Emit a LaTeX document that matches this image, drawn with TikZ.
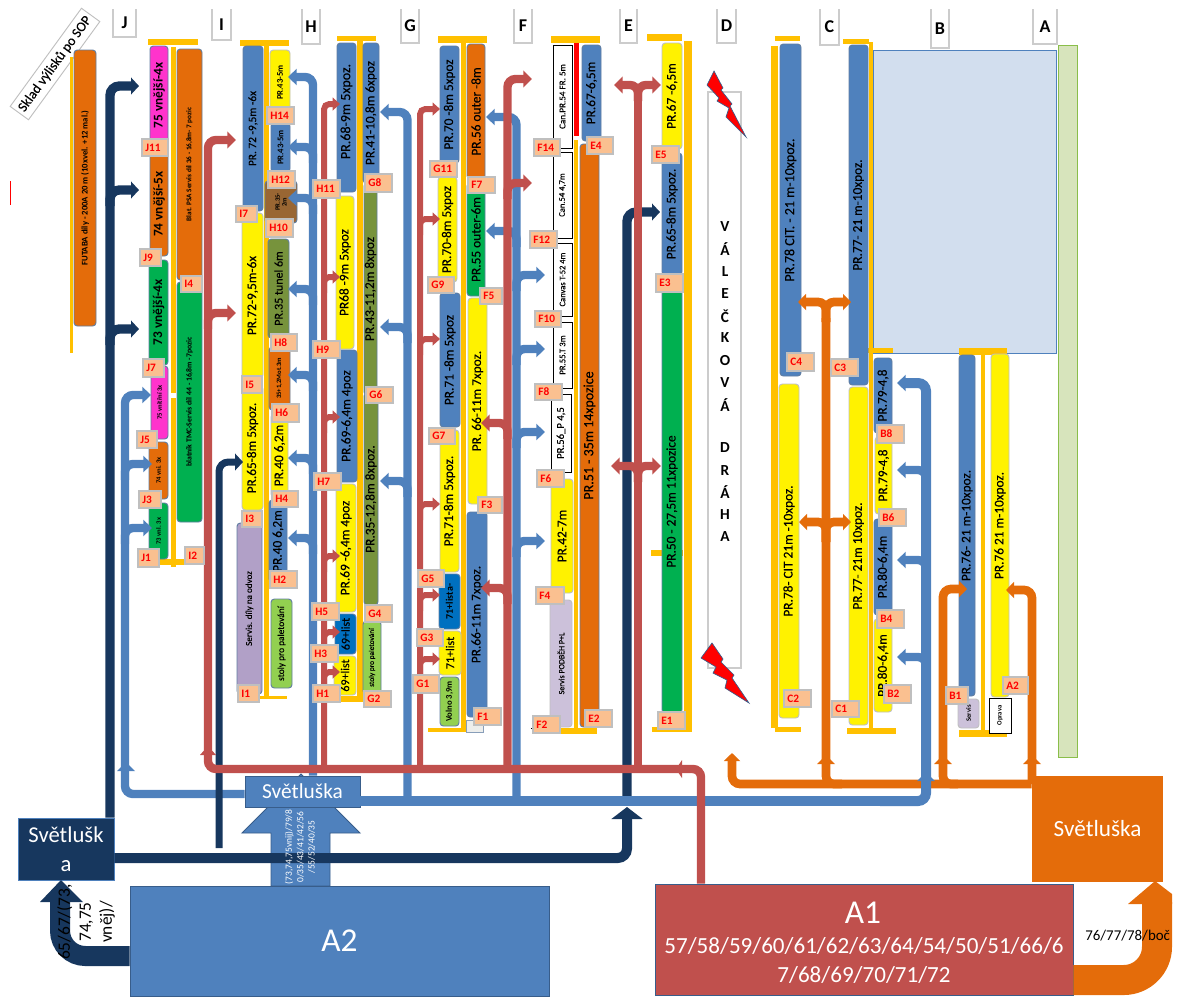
\documentclass[tikz,border=0pt]{standalone}
\usepackage{fontspec}
\setmainfont{Carlito}
\newfontfamily\lanefont{Carlito}[FakeBold=0.2]
\usetikzlibrary{arrows.meta}

\definecolor{railc}{HTML}{FFC000}
\definecolor{bluec}{HTML}{4F81BD}
\definecolor{navyc}{HTML}{17375E}
\definecolor{redc}{HTML}{C0504D}
\definecolor{orangec}{HTML}{E46C0A}
\definecolor{edgec}{HTML}{385D8A}
\definecolor{tagc}{HTML}{FAC090}
\definecolor{paleb}{HTML}{D2DEEE}
\definecolor{paleg}{HTML}{D7E4BC}
\definecolor{limec}{HTML}{92D050}
\definecolor{purplec}{HTML}{B1A0C7}
\definecolor{lilacc}{HTML}{CCC1DA}
\definecolor{olivec}{HTML}{77933C}
\definecolor{brownc}{HTML}{996633}
\definecolor{dblue}{HTML}{0070C0}
\definecolor{greenc}{HTML}{00B050}
\definecolor{pinkc}{HTML}{FF33CC}

\tikzset{
  bar/.style={rounded corners=2.5pt,line width=0.7pt},
  bluebar/.style={bar,fill=bluec,draw=edgec!80},
  yellowbar/.style={bar,fill=yellow,draw=black!25},
  orangebar/.style={bar,fill=orangec,draw=edgec!80},
  greenbar/.style={bar,fill=greenc,draw=edgec!80},
  pinkbar/.style={bar,fill=pinkc,draw=edgec!80},
  olivebar/.style={bar,fill=olivec,draw=edgec!80},
  brownbar/.style={bar,fill=brownc,draw=edgec!80},
  dbluebar/.style={bar,fill=dblue,draw=edgec!80},
  limebar/.style={bar,fill=limec,draw=edgec!80},
  purplebar/.style={bar,fill=purplec,draw=edgec!80},
  lilacbar/.style={bar,fill=lilacc,draw=black!25},
  whitebar/.style={fill=white,draw=black,line width=0.6pt},
  tagbox/.style={fill=tagc,draw=black!25,line width=0.8pt,text=red,inner xsep=2.5pt,inner ysep=0pt,
    align=left,font=\bfseries\fontsize{8.5}{8.5}\selectfont},
  block/.style={draw=edgec,line width=0.7pt,text=white,align=center,inner sep=0pt},
  blueflow/.style={bluec,line width=6.3pt,rounded corners=6pt,-{Triangle[length=6.5pt,width=12pt]}},
  redflow/.style={redc,line width=4.5pt,rounded corners=4pt,-{Triangle[length=5.5pt,width=9.5pt]}},
  redwide/.style={redc,line width=6.3pt,rounded corners=6pt,-{Triangle[length=6.5pt,width=12.5pt]}},
  navyflow/.style={navyc,line width=7pt,rounded corners=7pt,-{Triangle[length=6pt,width=12.5pt]}},
  orangeflow/.style={orangec,line width=6.5pt,rounded corners=6pt,-{Triangle[length=6pt,width=12pt]}},
}

% x1 y1 x2 y2
\newcommand{\rail}[4]{\fill[railc] (#1,#2) rectangle (#3,#4);}
% name, x1 y1 x2 y2, style, size, text
\newcommand{\lane}[8]{
  \filldraw[#6] (#2,#3) rectangle (#4,#5);
  \node[rotate=90,inner sep=0pt,align=center,font=\lanefont\fontsize{#7}{#7}\selectfont] (#1) at ({(#2+#4)/2},{(#3+#5)/2}) {#8};
}
% same, for the bold small print
\newcommand{\blane}[8]{
  \filldraw[#6] (#2,#3) rectangle (#4,#5);
  \node[rotate=90,inner sep=0pt,align=center,font=\bfseries\fontsize{#7}{#7}\selectfont] (#1) at ({(#2+#4)/2},{(#3+#5)/2}) {#8};
}
% x1 y1 x2 y2, text
\newcommand{\tagnode}[5]{
  \pgfmathsetmacro\tagw{(#3-#1)*0.75-5}
  \node[tagbox,text width=\tagw pt,minimum height={(#4-#2)*0.75pt}] (t#5) at ({(#1+#3)/2},{(#2+#4)/2}) {#5};
}
% x1 x2 bottom, letter
\newcommand{\colhead}[4]{
  \draw[black!20,line width=0.9pt] (#1,9) |- (#2,#3) -- (#2,9);
  \node[font=\bfseries\fontsize{13.5}{13.5}\selectfont] (col#4) at ({(#1+#2)/2},{(9+#3)/2}) {#4};
}
% style, x, tip x, y
\newcommand{\branch}[4]{\draw[#1] (#2,{#4+16}) |- (#3,#4);}
% tip sitting on a line
\newcommand{\tipup}[4]{\fill[#1] (#2,#3) -- ({#2-#4},{#3+9}) -- ({#2+#4},{#3+9}) -- cycle;}

\begin{document}
\begin{tikzpicture}[x=0.75pt,y=-0.75pt]
  \useasboundingbox (0,0) rectangle (1180,997);

  \colhead{113}{136}{37}{J}
  \colhead{212}{231}{40}{I}
  \colhead{302}{320}{44}{H}
  \colhead{401}{419}{43}{G}
  \colhead{514}{532}{43}{F}
  \colhead{620}{637}{43}{E}
  \colhead{717}{736}{43}{D}
  \colhead{820}{839}{45}{C}
  \colhead{931}{949}{48}{B}
  \colhead{1033}{1057}{44}{A}

  \node[draw=black!25,line width=0.7pt,rotate=54,minimum width=91pt,minimum height=17pt,inner sep=0pt,
    font=\lanefont\fontsize{10.4}{10.4}\selectfont] (sklad) at (55,64) {Sklad výlisků po SOP};
  \draw[red,line width=0.6pt] (10.5,181) -- (10.5,205);

  \filldraw[fill=paleb,draw=bluec,line width=0.7pt] (873,50) rectangle (1056,353);
  \filldraw[fill=paleg,draw=limec!70!olivec,line width=0.7pt] (1058,45) rectangle (1077,757);

  % J
  \rail{70}{57}{73}{353}
  \rail{148}{39}{198}{45}
  \rail{171}{47}{176}{393}
  \rail{171}{398}{176}{567}
  \rail{159}{559}{191}{565}
  \blane{futaba}{74}{50}{96}{326}{orangebar}{6.5}{FUTABA díly - 200A 20 m (10xvel. +12 mal.)}
  \blane{j75a}{150}{46}{168}{145}{pinkbar}{10}{75 vnější-4x}
  \blane{j74a}{150}{152}{168}{256}{orangebar}{10}{74 vnější-5x}
  \blane{j73a}{149}{260}{168}{365}{greenbar}{10}{73 vnější-4x}
  \blane{j75b}{151}{366}{168}{439}{pinkbar}{5}{75 vnitřní 3x}
  \blane{j74b}{149}{442}{168}{499}{orangebar}{5}{74 vni. 3x}
  \blane{j73b}{149}{503}{168}{559}{greenbar}{5}{73 vnl. 3x}
  \blane{blatpsa}{177}{49}{202}{280}{orangebar}{5.4}{Blat. PSA Servis díl 36 - 16,8m- 7 pozic}
  \blane{blattmc}{177}{282}{202}{522}{greenbar}{5.8}{blatník TMC-Servis díl 44 - 16,8m -7pozic}

  % I, H
  \rail{240}{40}{289}{46}
  \rail{264}{46}{269}{697}
  \rail{259}{696}{287}{699}
  \lane{pr72a}{243}{46}{263}{211}{bluebar}{8.5}{PR. 72 -9,5m -6x}
  \lane{pr72b}{242}{213}{263}{378}{yellowbar}{10}{PR.72-9,5m-6x}
  \lane{pr65a}{242}{386}{263}{510}{yellowbar}{10}{PR.65-8m 5xpoz.}
  \lane{odvoz}{237}{523}{262}{694}{purplebar}{6.8}{Servis. díly na odvoz}
  \lane{stolya}{271}{599}{292}{688}{limebar}{7}{stoly pro paletování}
  \blane{pr43a}{270}{50}{290}{115}{yellowbar}{6.5}{PR.43-5m}
  \blane{pr43b}{271}{123}{290}{172}{bluebar}{6.5}{PR.43-5m}
  \blane{pr35a}{265}{181}{297}{223}{brownbar}{5}{PR.35-\\2m}
  \lane{pr35b}{268}{239}{289}{338}{olivebar}{9}{PR.35 tunel 6m}
  \blane{pr35c}{269}{347}{290}{410}{orangebar}{5}{35+1,2Mot.3m}
  \lane{pr40a}{271}{414}{288}{497}{yellowbar}{10}{PR.40 6,2m}
  \lane{pr40b}{269}{500}{287}{582}{bluebar}{10}{PR.40 6,2m}

  \rail{337}{36}{376}{41}
  \rail{357}{41}{363}{697}
  \rail{340}{696}{365}{702}
  \lane{pr68a}{337}{43}{356}{192}{bluebar}{10.5}{\hspace*{9pt}PR.68-9m 5xpoz.}
  \lane{pr68b}{336}{196}{354}{349}{yellowbar}{10}{PR68 -9m 5xpoz}
  \lane{pr69a}{337}{350}{357}{482}{bluebar}{10}{PR.69-6,4m 4poz}
  \lane{pr69b}{336}{484}{356}{612}{yellowbar}{10}{PR.69 -6,4m 4poz}
  \lane{list69a}{335}{614}{356}{654}{dbluebar}{9}{69+list}
  \lane{list69b}{334}{656}{356}{695}{yellowbar}{9}{69+list}
  \lane{pr41}{363}{43}{379}{183}{bluebar}{10}{PR.41-10,8m 6xpoz}
  \lane{pr43c}{364}{183}{377}{395}{olivebar}{10}{PR.43-11,2m 8xpoz}
  \lane{pr35d}{364}{393}{378}{605}{olivebar}{10}{PR.35-12,8m 8xpoz.}
  \lane{stolyb}{363}{621}{381}{694}{limebar}{5.5}{stoly pro paletování}

  % G, F
  \rail{438}{36}{487}{43}
  \rail{461}{43}{466}{728}
  \rail{428}{728}{468}{732}
  \lane{pr70a}{440}{46}{459}{163}{bluebar}{10}{PR.70 -8m 5xpoz}
  \lane{pr70b}{438}{177}{457}{282}{yellowbar}{10}{PR.70-8m 5xpoz}
  \lane{pr71a}{440}{293}{460}{427}{bluebar}{10}{PR.71 -8m 5xpoz}
  \lane{pr71b}{440}{430}{459}{572}{yellowbar}{10}{PR.71-8m 5xpoz.}
  \blane{list71a}{439}{574}{460}{629}{dbluebar}{7.5}{71+lista-}
  \lane{list71b}{439}{631}{461}{675}{yellowbar}{9}{71+list}
  \blane{volno}{440}{677}{459}{726}{limebar}{6.5}{Volno 3,9m}
  \filldraw[fill=paleg!50!black!12,draw=edgec!60,line width=0.6pt] (466,720) rectangle (483,732);
  \lane{pr56}{467}{44}{485}{179}{orangebar}{10}{PR.56 outer -8m}
  \lane{pr55}{467}{183}{485}{296}{greenbar}{10}{PR.55 outer-6m}
  \lane{pr66a}{468}{298}{487}{504}{yellowbar}{10}{PR. 66-11m 7xpoz.}
  \lane{pr66b}{467}{512}{487}{717}{bluebar}{10}{PR.66-11m 7xpoz.}

  \rail{551}{36}{600}{43}
  \fill[red] (574,43) rectangle (579,136);
  \rail{574}{140}{578}{729}
  \rail{548}{728}{597}{734}
  \draw[black,line width=0.4pt] (531,728) -- (561,728);
  \lane{can54a}{553}{45}{572}{148}{whitebar}{6.8}{Can.PR.54 FR. 5m}
  \lane{can54b}{553}{152}{572}{238}{whitebar}{6.4}{Can.54 4,7m}
  \lane{can52}{553}{243}{572}{316}{whitebar}{6.4}{Canvas T-52 4m}
  \lane{pr55t}{553}{322}{572}{388}{whitebar}{6.5}{PR.55.T 3m}
  \lane{pr56p}{551}{394}{571}{472}{whitebar}{8}{PR.56\_P 4,5}
  \lane{pr42}{551}{479}{573}{593}{yellowbar}{10}{PR.42-7m}
  \lane{podbeh}{550}{600}{572}{727}{lilacbar}{6}{Servis PODBĚH P+L}
  \lane{pr67a}{582}{45}{601}{141}{bluebar}{10}{PR.67-6,5m}
  \lane{pr51}{580}{144}{599}{727}{orangebar}{10.5}{PR.51 - 35m 14xpozice}

  % E
  \rail{647}{34}{682}{41}
  \rail{684}{41}{692}{730}
  \rail{652}{727}{692}{732}
  \rail{651}{550}{683}{556}
  \lane{pr67b}{662}{43}{682}{149}{yellowbar}{10}{PR.67 -6,5m}
  \lane{pr65b}{662}{153}{682}{275}{bluebar}{10}{PR.65-8m 5xpoz.}
  \lane{pr50}{662}{290}{682}{713}{greenbar}{10}{PR.50 - 27,5m 11xpozice}

  % D
  \filldraw[fill=white,draw=black!20,line width=0.9pt] (708,92) rectangle (741,668);
  \foreach \letter [count=\i from 0] in {V,Á,L,E,Č,K,O,V,Á}
    \node[font=\bfseries\fontsize{11.5}{11.5}\selectfont,inner sep=0pt] (val\i) at (725,{227+22.2*\i}) {\letter};
  \foreach \letter [count=\i from 0] in {D,R,Á,H,A}
    \node[font=\bfseries\fontsize{11.5}{11.5}\selectfont,inner sep=0pt] (dra\i) at (725,{448+22.2*\i}) {\letter};
  \filldraw[fill=red,draw=edgec,line width=0.5pt] (714,71) -- (723,88) -- (721,90) -- (732,104) -- (730,106) -- (746,137)
    -- (726,117) -- (729,108) -- (717,101) -- (719,98) -- (707,85) -- cycle;
  \filldraw[fill=red,draw=edgec,line width=0.5pt] (712,643) -- (723,659) -- (721,662) -- (734,675) -- (732,678) -- (749,703)
    -- (725,688) -- (727,680) -- (713,673) -- (716,667) -- (701,658) -- cycle;

  % C, B, A
  \rail{775}{36}{800}{41}
  \rail{771}{46}{778}{728}
  \rail{775}{727}{801}{732}
  \lane{pr78a}{780}{44}{801}{376}{bluebar}{10.5}{PR.78 CIT. - 21 m-10xpoz.}
  \lane{pr78b}{779}{384}{799}{718}{yellowbar}{10}{PR.78- CIT 21m -10xpoz.}
  \rail{843}{39}{869}{44}
  \rail{869}{42}{873}{730}
  \rail{847}{728}{896}{734}
  \rail{868}{348}{893}{353}
  \lane{pr77a}{849}{45}{868}{385}{bluebar}{10}{PR.77- 21 m-10xpoz.}
  \lane{pr77b}{849}{387}{868}{725}{yellowbar}{10}{PR.77- 21m 10xpoz.}
  \lane{pr79a}{874}{358}{892}{433}{bluebar}{10}{PR.79-4,8}
  \lane{pr79b}{875}{437}{892}{514}{yellowbar}{10}{PR.79-4,8}
  \lane{pr80a}{874}{519}{892}{615}{bluebar}{10}{PR.80-6,4m}
  \lane{pr80b}{874}{619}{892}{712}{yellowbar}{10}{PR.80-6,4m}
  \rail{959}{348}{1007}{355}
  \rail{981}{355}{985}{733}
  \rail{959}{730}{1007}{737}
  \lane{pr76a}{959}{355}{975}{696}{bluebar}{10}{PR.76- 21 m-10xpoz.}
  \lane{pr76b}{991}{354}{1009}{697}{yellowbar}{10}{PR.76 21 m-10xpoz.}
  \blane{servisb}{958}{699}{979}{728}{lilacbar}{5}{Servis}
  \blane{oprava}{989}{698}{1011}{733}{whitebar}{5}{Oprava}

  % A2, A1 a Svetluska
  \filldraw[fill=bluec,draw=edgec,line width=0.7pt] (271,886) -- (271,833) -- (242,833) -- (301,774) -- (360,833) -- (330,833) -- (330,886) -- cycle;
  \node[block,fill=navyc,draw=bluec,minimum width=72pt,minimum height=46.5pt,font=\fontsize{17}{22}\selectfont] (svetN) at (66,849) {Světlušk\\a};
  \node[block,fill=bluec,minimum width=314.25pt,minimum height=82.5pt,font=\fontsize{25}{25}\selectfont] (blockA2) at (339.5,941) {A2};
  \node[block,fill=redc,minimum width=313.5pt,minimum height=83.25pt] (blockA1) at (864,939.5) {};
  \node[text=white,font=\fontsize{25}{25}\selectfont] (nameA1) at (863,913) {A1};
  \node[text=white,align=center,font=\fontsize{17.3}{21.75}\selectfont] (listA1) at (864,960) {57/58/59/60/61/62/63/64/54/50/51/66/6\\7/68/69/70/71/72};
  \node[block,fill=orangec,draw=orangec,minimum width=98pt,minimum height=78.75pt,font=\fontsize{17.4}{17.4}\selectfont] (svetO) at (1097.5,828.5) {Světluška};
  \node[block,fill=bluec,minimum width=86.25pt,minimum height=23.25pt,font=\fontsize{16}{16}\selectfont] (svetB) at (302.5,791.5) {Světluška};

  % navy
  \draw[navyflow,line width=7.5pt,-{Triangle[length=9pt,width=23pt]}] (svetN.east |- 0,858) -| (627,807);
  \draw[navyflow] (627,800) |- (660,212);

  % orange
  \draw[orangeflow] (svetO.west |- 0,784) -| (732,753);
  \draw[orangeflow,-] (842,784) -| (826,318);
  \draw[orangeflow] (826,322) |- (798,302);
  \draw[orangeflow] (826,322) |- (851,302);
  \draw[orangeflow] (826,542) |- (799,522);
  \draw[orangeflow] (826,542) |- (851,522);
  \tipup{orangec}{826}{755}{9}
  \draw[orangeflow] (958,784) -| (943,589) -- (967,589);
  \tipup{orangec}{943}{755}{9}
  \draw[orangeflow] (1032,784) |- (1006,590);
  \tipup{orangec}{1032}{755}{9}

  % blue
  \draw[blueflow] (svetB.west |- 0,794) -| (125,395) -- (151,395);
  \branch{blueflow}{125}{152}{464}
  \branch{blueflow}{125}{152}{528}
  \tipup{bluec}{126}{762}{9}
  \draw[blueflow] (313,0 |- svetB.north) |- (288,77);
  \foreach \y in {147,198,289,375,458,538} {
    \branch{blueflow}{313}{288}{\y}
  }
  \draw[blueflow,line width=7.5pt,-] (svetB.east |- 0,801) -- (900,801);
  \draw[blueflow] (407.5,801) |- (380,112);
  \foreach \y in {327,481} {
    \branch{blueflow}{407.5}{380}{\y}
  }
  \draw[blueflow] (516.5,801) |- (486,117);
  \branch{blueflow}{516.5}{486}{231}
  \foreach \y in {275,349,432,541} {
    \branch{blueflow}{516.5}{545}{\y}
  }
  \draw[blueflow,line width=7.5pt] (880,801) -| (926,383) -- (897,383);
  \foreach \y in {470,560,657} {
    \branch{blueflow}{926}{897}{\y}
  }
  \tipup{bluec}{926}{772}{9}

  % navy
  \draw[navyflow,line width=5.25pt] (219,848) |- (243,462);
  \draw[navyflow] (110,0 |- svetN.north) |- (139,86);
  \foreach \y in {190,329} {
    \branch{navyflow}{110}{139}{\y}
  }

  % red
  \draw[redwide] (701,0 |- blockA1.north) |- (208,769) |- (236,140);
  \fill[redc] (676,769) -- (682,760) -- (682,778) -- cycle;
  \tipup{redc}{208}{746}{8}
  \branch{redwide}{208}{236}{313}
  \draw[redflow] (324,769) |- (340,104);
  \foreach \y in {277,417,556,632,672} {
    \branch{redflow}{324}{340}{\y}
  }
  \draw[redflow] (420,769) |- (440,109);
  \foreach \y in {219,339,504,595,659} {
    \branch{redflow}{420}{440}{\y}
  }
  \draw[redwide] (507.5,769) |- (532,79);
  \branch{redwide}{507.5}{532}{183}
  \foreach \y in {423,588} {
    \branch{redwide}{507.5}{481}{\y}
  }
  \draw[redwide,-] (638,769) -- (638,100);
  \draw[redwide] (638,101) |- (614,85);
  \draw[redwide] (638,101) |- (661,85);
  \draw[redwide] (638,482) |- (611,466);
  \draw[redwide] (638,482) |- (661,466);

  % big flows
  \draw[navyc,line width=15pt,rounded corners=19pt] (blockA2.west |- 0,956) -| (60,900);
  \fill[navyc] (61,880) -- (40,902) -- (83,902) -- cycle;
  \draw[orangec,line width=22.5pt,rounded corners=25pt] (blockA1.east |- 0,980) -| (1157,902);
  \fill[orangec] (1155,881) -- (1128,904) -- (1172,904) -- (1172,894) -- cycle;

  \node[rotate=90,text=white,align=center,inner sep=0pt,font=\fontsize{7.1}{8.6}\selectfont] (listA2) at (300,847)
    {(73,74,75vnij)/79/8\\0/35/43/41/42/56\\/55/52/40/35};
  \node[rotate=90,align=center,inner sep=0pt,font=\fontsize{13}{15.75}\selectfont] (listN) at (86,922) {65/67/(73,\\74,75\\vněj)/};
  \node[anchor=west,inner sep=0pt,font=\fontsize{11.2}{11.2}\selectfont] (listO) at (1085,936) {76/77/78/boč};

  % tags
  \tagnode{142}{139}{168}{156}{J11}
  \tagnode{140}{249}{161}{266}{J9}
  \tagnode{143}{359}{164}{377}{J7}
  \tagnode{137}{431}{157}{448}{J5}
  \tagnode{139}{491}{161}{508}{J3}
  \tagnode{138}{549}{159}{567}{J1}
  \tagnode{181}{276}{202}{292}{I4}
  \tagnode{185}{547}{204}{564}{I2}
  \tagnode{236}{206}{257}{222}{I7}
  \tagnode{242}{376}{262}{393}{I5}
  \tagnode{242}{511}{262}{527}{I3}
  \tagnode{238}{685}{259}{702}{I1}
  \tagnode{267}{107}{294}{124}{H14}
  \tagnode{268}{171}{295}{188}{H12}
  \tagnode{266}{219}{293}{237}{H10}
  \tagnode{271}{334}{297}{351}{H8}
  \tagnode{272}{404}{299}{422}{H6}
  \tagnode{272}{491}{298}{507}{H4}
  \tagnode{270}{571}{297}{588}{H2}
  \tagnode{313}{180}{340}{198}{H11}
  \tagnode{313}{341}{340}{358}{H9}
  \tagnode{314}{473}{341}{490}{H7}
  \tagnode{312}{603}{339}{620}{H5}
  \tagnode{311}{645}{338}{662}{H3}
  \tagnode{313}{685}{340}{702}{H1}
  \tagnode{365}{174}{392}{192}{G8}
  \tagnode{366}{387}{393}{403}{G6}
  \tagnode{365}{605}{392}{622}{G4}
  \tagnode{364}{691}{391}{707}{G2}
  \tagnode{430}{161}{457}{177}{G11}
  \tagnode{428}{277}{454}{293}{G9}
  \tagnode{429}{428}{455}{444}{G7}
  \tagnode{418}{570}{444}{587}{G5}
  \tagnode{417}{629}{443}{646}{G3}
  \tagnode{413}{675}{439}{693}{G1}
  \tagnode{468}{177}{495}{193}{F7}
  \tagnode{480}{288}{502}{304}{F5}
  \tagnode{478}{497}{502}{513}{F3}
  \tagnode{474}{708}{501}{725}{F1}
  \tagnode{534}{139}{560}{156}{F14}
  \tagnode{530}{231}{557}{248}{F12}
  \tagnode{535}{311}{561}{327}{F10}
  \tagnode{535}{384}{562}{400}{F8}
  \tagnode{537}{470}{564}{487}{F6}
  \tagnode{536}{587}{564}{604}{F4}
  \tagnode{533}{716}{560}{733}{F2}
  \tagnode{587}{137}{613}{154}{E4}
  \tagnode{585}{710}{612}{727}{E2}
  \tagnode{652}{146}{679}{163}{E5}
  \tagnode{656}{274}{683}{292}{E3}
  \tagnode{658}{712}{685}{729}{E1}
  \tagnode{787}{353}{814}{371}{C4}
  \tagnode{831}{359}{858}{376}{C3}
  \tagnode{784}{690}{811}{707}{C2}
  \tagnode{832}{701}{859}{717}{C1}
  \tagnode{877}{425}{904}{443}{B8}
  \tagnode{879}{509}{906}{526}{B6}
  \tagnode{877}{610}{904}{628}{B4}
  \tagnode{884}{685}{911}{703}{B2}
  \tagnode{946}{687}{968}{704}{B1}
  \tagnode{1003}{677}{1028}{694}{A2}

\end{tikzpicture}
\end{document}
